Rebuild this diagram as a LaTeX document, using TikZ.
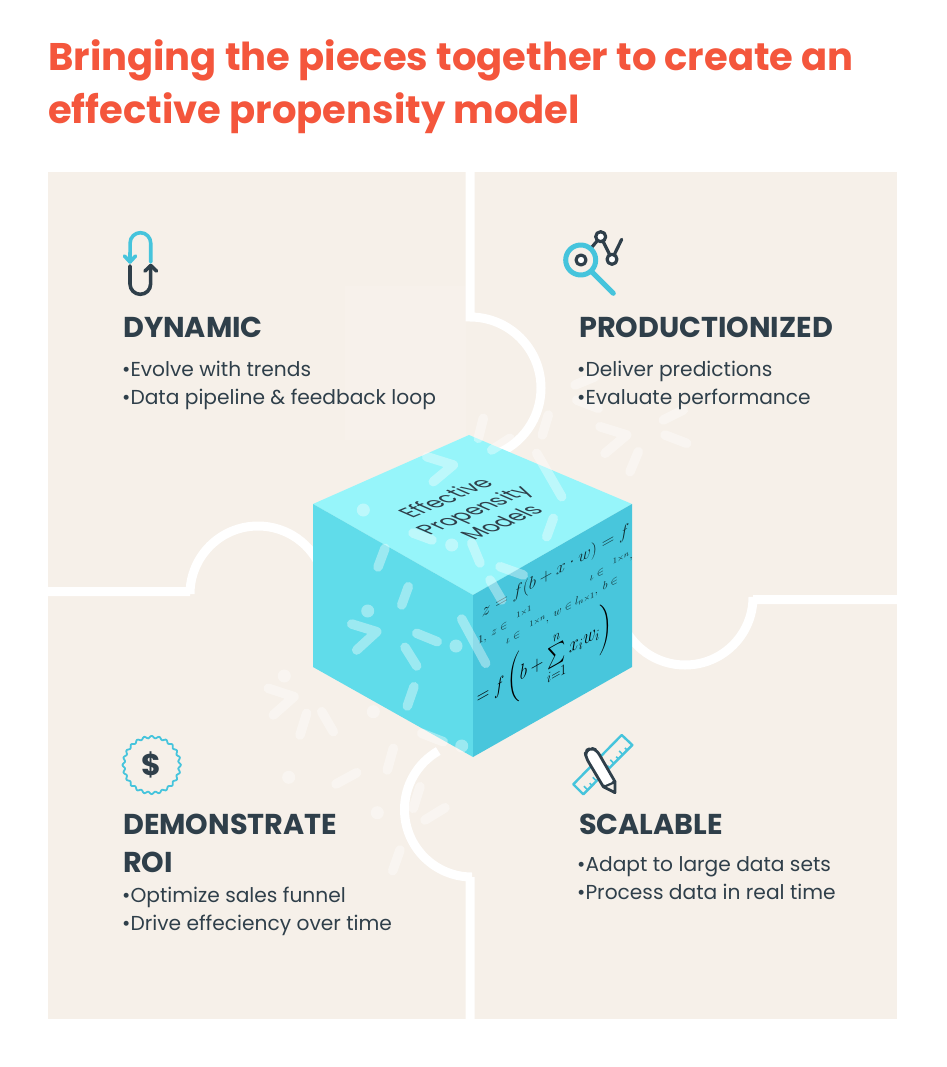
\documentclass[tikz,border=0pt]{standalone}
\usepackage{fontspec}
\usepackage{amsmath}
\setmainfont{Poppins}
\definecolor{panelbg}{HTML}{F6F0E9}
\definecolor{titlered}{HTML}{F4563C}
\definecolor{inkdark}{HTML}{2F3F4A}
\definecolor{iconcyan}{HTML}{46C4DC}
\definecolor{cubetop}{HTML}{96F5FA}
\definecolor{cubeleft}{HTML}{60DCEA}
\definecolor{cuberight}{HTML}{48C6DC}
\tikzset{
  gapline/.style={draw=white,line width=9pt},
  confetti/.style={draw=white,line width=9.5pt,line cap=round,line join=round,opacity=0.38},
  confettidot/.style={fill=white,opacity=0.38},
  headtext/.style={anchor=base west,inner sep=0pt,text=inkdark,font=\fontsize{28.7}{38}\selectfont\bfseries,align=left},
  bodytext/.style={anchor=base west,inner sep=0pt,text=inkdark,font=\fontsize{20.2}{28}\selectfont,align=left},
  icondark/.style={draw=inkdark,line width=3.2pt,line cap=round,line join=round},
  iconcyanline/.style={draw=iconcyan,line width=3.6pt,line cap=round,line join=round},
  facemath/.style={transform shape,anchor=base west,inner sep=0pt,text=black!80!cuberight}
}
\begin{document}
\begin{tikzpicture}[x=1pt,y=-1pt]
\useasboundingbox (0,0) rectangle (946,1067);
\fill[white] (0,0) rectangle (946,1067);
% title
\node[anchor=base west,inner sep=0pt,text=titlered,font=\fontsize{38.5}{53}\selectfont\bfseries,align=left] (title) at (48,124)
  {Bringing the pieces together to create an\\effective propensity model};
% puzzle panels
\fill[panelbg] (48,172) rectangle (897,1019);
\fill[white,opacity=0.12] (345,286) rectangle (466,440);
\draw[gapline] (470,172) -- (470,317) arc[start angle=90,end angle=-70,radius=71pt];
\draw[gapline] (470,1019) -- (470,877) -- (472,877) arc[start angle=-90,end angle=-240,radius=67.5pt];
\draw[gapline] (48,591.5) -- (190,591.5) -- (190,594) arc[start angle=180,end angle=20,radius=68pt];
\draw[gapline] (897,599.5) -- (753,599.5) -- (753,597) arc[start angle=0,end angle=-160,radius=68pt];
% cube
\fill[cubetop] (313,504) -- (469,435) -- (632,504) -- (473,595) -- cycle;
\fill[cubeleft] (313,504) -- (473,595) -- (473,757) -- (313,667) -- cycle;
\fill[cuberight] (473,595) -- (632,504) -- (632,667) -- (473,757) -- cycle;
% text on the top face
\begin{scope}[shift={(473,510)},cm={0.98,0.41,-0.98,0.43,(0,0)}]
\node[transform shape,xscale=0.88,text=inkdark,font=\fontsize{23}{28.5}\selectfont,align=center,inner sep=0pt] (cubetitle) at (0,0) {Effective\\Propensity\\Models};
\end{scope}
% formulas on the right face
\begin{scope}
\clip (473,595) -- (632,504) -- (632,667) -- (473,757) -- cycle;
\begin{scope}[shift={(473,595)},cm={1,0.56,0,1,(0,0)}]
\node[facemath,font=\fontsize{16}{20}\selectfont] (formulaA) at (8.7,27) {$z = f(b + x \cdot w) = f$};
\node[facemath,font=\fontsize{11}{12}\selectfont] (formulaB) at (5,52) {$1,\ z\in\ \ ^{1\times 1}\qquad\qquad\quad\ \iota\in\ \ ^{1\times n},\ w$};
\node[facemath,font=\fontsize{11}{12}\selectfont] (formulaC) at (33,68) {$\iota\in\ \ ^{1\times n},\ w\in l_{n\times 1},\ b\in$};
\node[facemath,text=black,yscale=1.22,font=\fontsize{18}{20}\selectfont] (formulaD) at (3.7,112) {$= f\left(b + \sum\limits_{i=1}^{n} x_i w_i\right)$};
\end{scope}
\end{scope}
% confetti strokes
\foreach \ax/\ay/\bx/\by in {385/548.3/378/567, 471.7/543/480/563, 536.7/453.3/561.7/496.7,
  553.3/518.3/546.7/536.7, 413/533/432/540, 500/566.7/523.3/575, 490/580/501.7/600,
  408.3/586.7/401.7/605, 416.7/633.3/437.3/641.7, 405/647.3/416.7/666, 461.7/619/485.7/663.3,
  414/686.7/407.3/706, 483.3/418.3/478.3/438.3, 510/438.3/491.7/450, 548.3/415/542.3/435,
  595/376.7/575/385, 576.7/400/598.3/408.3, 638.3/451.7/630/471.7, 683.3/410/663.3/420,
  665/435/686.7/443.3, 306.7/713.3/300/735, 321.7/711.7/333.3/731.7, 393.3/748.3/387.3/770,
  356.7/772.7/336/784, 420/786.7/413.3/808.3, 445/807.7/425/820, 400/850/392.7/870.7,
  421.7/733.3/443.3/741.7}
  \draw[confetti] (\ax,\ay) -- (\bx,\by);
% confetti chevrons
\draw[confetti] (426.7,456.7) -- (453.3,465) -- (433.3,481.7);
\draw[confetti] (351.7,624) -- (376.7,631.7) -- (356.7,650);
\draw[confetti] (600,426.7) -- (626.7,435) -- (605,453.3);
\draw[confetti] (268.3,688.3) -- (294,696.7) -- (273.3,715);
% confetti dots
\foreach \dx/\dy in {363.3/510, 451.7/545, 367.7/611, 456/646, 284.3/676, 373.3/711.7,
  288.7/777.3, 377.3/812.7, 461.7/746}
  \fill[confettidot] (\dx,\dy) circle[radius=6.5pt];
% dynamic
\draw[iconcyanline] (150.7,262) -- (150.7,243) arc[start angle=0,end angle=180,radius=10.3pt] -- (130,261);
\draw[iconcyanline] (124.5,256) -- (130,262) -- (135.5,256);
\draw[icondark,line width=3.6pt] (130,266) -- (130,284) arc[start angle=180,end angle=360,radius=10.3pt] -- (150.7,267);
\draw[icondark,line width=3.6pt] (145,271) -- (150.7,265.5) -- (156.5,271);
\node[headtext] (dynamichead) at (123,337) {DYNAMIC};
\node[bodytext] (dynamicbody) at (122,404) {•Evolve with trends\\•Data pipeline \& feedback loop};
% productionized
\draw[icondark] (581,260) -- (600.7,236.7) -- (612,259.3) -- (621.7,239.3);
\fill[panelbg] (580.7,260) circle[radius=15pt];
\draw[iconcyanline,line width=5pt] (580.7,260) circle[radius=15pt];
\draw[iconcyanline,line width=5pt] (591.7,271.7) -- (613.3,293.3);
\draw[icondark,fill=white] (581,260) circle[radius=5pt];
\draw[icondark,fill=white] (600.7,236.7) circle[radius=5pt];
\draw[icondark,fill=white] (612,259.3) circle[radius=5pt];
\node[headtext] (prodhead) at (579,337) {PRODUCTIONIZED};
\node[bodytext] (prodbody) at (577,404) {•Deliver predictions\\•Evaluate performance};
% demonstrate roi
\draw[iconcyan,line width=1.8pt] plot[domain=0:360,samples=300] ({151.7+(28+1.1*cos(24*\x))*cos(\x)},{765+(28+1.1*cos(24*\x))*sin(\x)}) -- cycle;
\node[text=inkdark,inner sep=0pt,font=\fontsize{30}{32}\selectfont\bfseries] (dollar) at (151.7,765) {\$};
\node[headtext] (roihead) at (123,872) {DEMONSTRATE\\ROI};
\node[bodytext] (roibody) at (122,930) {•Optimize sales funnel\\•Drive effeciency over time};
% scalable
\draw[iconcyan,line width=2.4pt,line join=round] (573.3,784.3) -- (621.7,735) -- (632.3,745) -- (583.3,794.3) -- cycle;
\foreach \t/\l in {0/3,1/5,2/3,3/5,4/3,5/5,6/3,7/5,8/3,9/5,10/3}
  \draw[iconcyan,line width=1.6pt] ({583+\t*4.4},{794-\t*4.4}) -- ++({-\l*0.7},{-\l*0.7});
\draw[icondark,fill=white,line width=2.8pt,rounded corners=5pt] (603.3,786.7) -- (586,757.7) -- (585,751) -- (591,748) -- (596.7,750) -- (615,781.7);
\draw[icondark,fill=panelbg,line width=2.8pt] (603.3,786.7) -- (615,792.7) -- (615,781.7) -- cycle;
\fill[white] (589,757) -- (594,753) -- (612,782) -- (605,785) -- cycle;
\node[headtext] (scalehead) at (579,834) {SCALABLE};
\node[bodytext] (scalebody) at (577,899) {•Adapt to large data sets\\•Process data in real time};
\end{tikzpicture}
\end{document}
